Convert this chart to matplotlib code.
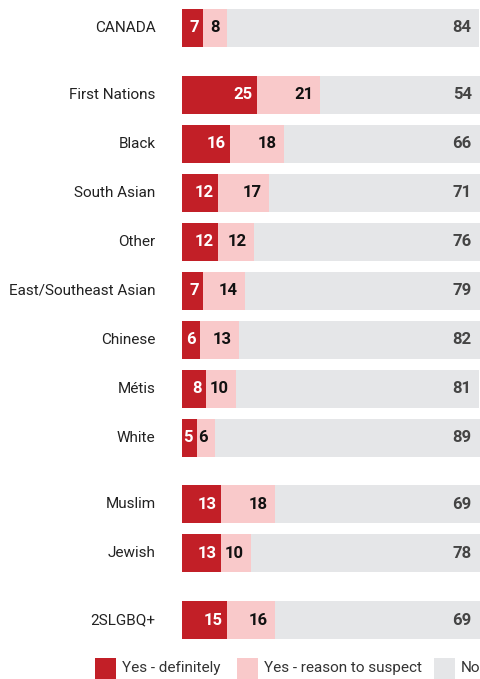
import numpy as np
import matplotlib.pyplot as plt
from matplotlib.patches import Rectangle

plt.rcParams['font.family'] = ['Roboto', 'DejaVu Sans']

groups = [
    ["CANADA"],
    ["First Nations", "Black", "South Asian", "Other", "East/Southeast Asian",
     "Chinese", "Métis", "White"],
    ["Muslim", "Jewish"],
    ["2SLGBQ+"],
]
definitely = [7, 25, 16, 12, 12, 7, 6, 8, 5, 13, 13, 15]
suspect = [8, 21, 18, 17, 12, 14, 13, 10, 6, 18, 10, 16]
no = [84, 54, 66, 71, 76, 79, 82, 81, 89, 69, 78, 69]
legend_labels = ["Yes - definitely", "Yes - reason to suspect", "No"]

RED = "#c21f27"
PINK = "#f9c9ca"
GREY = "#e5e6e8"

# row positions: one unit per bar, extra space between groups
labels, ypos = [], []
y = 0.0
for g in groups:
    for name in g:
        labels.append(name)
        ypos.append(y)
        y += 1.0
    y += 0.36
ypos = np.array(ypos)

W, H = 480, 679
fig = plt.figure(figsize=(W / 100, H / 100), dpi=100)
ax = fig.add_axes([182 / W, 1 - 643 / H, 1 - 182 / W, 643 / H])

d = np.array(definitely)
s = np.array(suspect)
n = np.array(no)
h = 0.775
ax.barh(ypos, d, height=h, color=RED, linewidth=0)
ax.barh(ypos, s, left=d, height=h, color=PINK, linewidth=0)
ax.barh(ypos, n, left=d + s, height=h, color=GREY, linewidth=0)

fs_val = 12
fs_lab = 11
for yi, a, b, c in zip(ypos, d, s, n):
    ax.annotate(str(a), (a, yi), xytext=(-3, 0), textcoords="offset points",
                ha="right", va="center", color="white", fontsize=fs_val,
                fontweight="bold", annotation_clip=False)
    ax.annotate(str(b), (a + b, yi), xytext=(-5, 0), textcoords="offset points",
                ha="right", va="center", color="#111111", fontsize=fs_val,
                fontweight="bold", annotation_clip=False)
    ax.annotate(str(c), (min(a + b + c, 99.3), yi), xytext=(-6, 0),
                textcoords="offset points", ha="right", va="center",
                color="#444444", fontsize=fs_val, fontweight="bold",
                annotation_clip=False)

for yi, name in zip(ypos, labels):
    ax.annotate(name, (0, yi), xytext=(-19, 0), textcoords="offset points",
                ha="right", va="center", color="#222222", fontsize=fs_lab,
                annotation_clip=False)

ax.set_xlim(0, 99.3)
ax.set_ylim(ypos[-1] + 0.469, ypos[0] - 0.571)
ax.axis("off")

# legend row along the bottom
sq = 21
for x0, col, txt in zip([95, 237, 434], [RED, PINK, GREY], legend_labels):
    fig.patches.append(Rectangle((x0 / W, 1 - (668 + sq / 2) / H), sq / W, sq / H,
                                 transform=fig.transFigure, color=col, lw=0))
    fig.text((x0 + 27) / W, 1 - 668 / H, txt, ha="left", va="center",
             fontsize=fs_lab, color="#333333")

fig.savefig("out.png", dpi=100)
